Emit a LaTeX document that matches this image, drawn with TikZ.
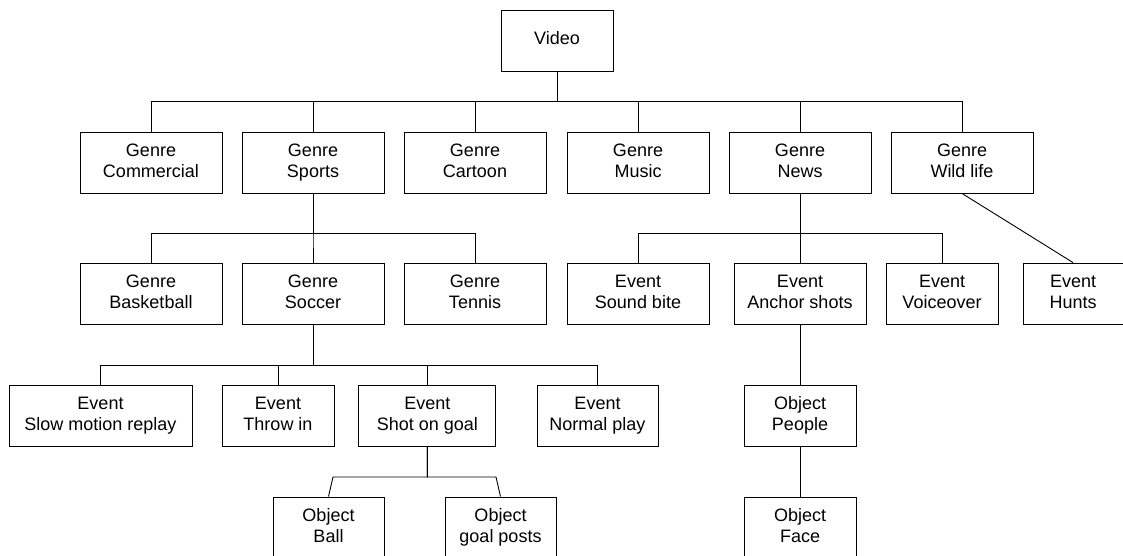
\documentclass[tikz,border=0pt]{standalone}
\usepackage{fontspec}
\setmainfont{Liberation Sans}
\newcommand{\twol}[2]{\strut#1\\\strut#2}
\begin{document}
\begin{tikzpicture}[x=1pt,y=-1pt,
  box/.style={draw=black,line width=0.9pt,rectangle,inner sep=0pt,minimum height=61pt,align=center,font=\fontsize{18}{21}\selectfont},
  conn/.style={draw=black,line width=0.9pt}]
\useasboundingbox (0,0) rectangle (1123,556);
% row 0
\node[box,minimum width=112pt] (video) at (557,40.5) {\strut Video};
% row 1
\node[box,minimum width=142pt] (commercial) at (151,162.5) {\twol{Genre}{Commercial}};
\node[box,minimum width=142pt] (sports) at (313,162.5) {\twol{Genre}{Sports}};
\node[box,minimum width=142pt] (cartoon) at (475,162.5) {\twol{Genre}{Cartoon}};
\node[box,minimum width=142pt] (music) at (638,162.5) {\twol{Genre}{Music}};
\node[box,minimum width=142pt] (news) at (800,162.5) {\twol{Genre}{News}};
\node[box,minimum width=142pt] (wildlife) at (962,162.5) {\twol{Genre}{Wild life}};
% row 2
\node[box,minimum width=142pt] (basketball) at (151,293.5) {\twol{Genre}{Basketball}};
\node[box,minimum width=142pt] (soccer) at (313,293.5) {\twol{Genre}{Soccer}};
\node[box,minimum width=142pt] (tennis) at (475,293.5) {\twol{Genre}{Tennis}};
\node[box,minimum width=142pt] (soundbite) at (638,293.5) {\twol{Event}{Sound bite}};
\node[box,minimum width=132pt] (anchor) at (800,293.5) {\twol{Event}{Anchor shots}};
\node[box,minimum width=112pt] (voiceover) at (942,293.5) {\twol{Event}{Voiceover}};
\node[box,minimum width=100pt] (hunts) at (1073,293.5) {\twol{Event}{Hunts}};
% row 3
\node[box,minimum width=183pt] (slowmo) at (100.5,415.5) {\twol{Event}{Slow motion replay}};
\node[box,minimum width=112pt] (throwin) at (278,415.5) {\twol{Event}{Throw in}};
\node[box,minimum width=137pt] (shot) at (427.3,415.5) {\twol{Event}{Shot on goal}};
\node[box,minimum width=121pt] (normal) at (597.5,415.5) {\twol{Event}{Normal play}};
\node[box,minimum width=112pt] (people) at (800,415.5) {\twol{Object}{People}};
% row 4
\node[box,minimum width=111pt] (ball) at (328.5,527.5) {\twol{Object}{Ball}};
\node[box,minimum width=111pt] (goalposts) at (500.5,527.5) {\twol{Object}{goal posts}};
\node[box,minimum width=112pt] (face) at (800,527.5) {\twol{Object}{Face}};
% bus points
\coordinate (b1) at (557,101);
\coordinate (b2) at (313,233);
\coordinate (b3) at (800,233);
\coordinate (b4) at (313,365);
\coordinate (b5) at (427.3,477);
\coordinate (b5l) at (333,477);
\coordinate (b5r) at (496,477);
% connectors
\foreach \c in {commercial,sports,cartoon,music,news,wildlife}
  \draw[conn] (video.south) -- (b1) -| (\c.north);
\foreach \c in {basketball,soccer,tennis}
  \draw[conn] (sports.south) -- (b2) -| (\c.north);
\foreach \c in {soundbite,anchor,voiceover}
  \draw[conn] (news.south) -- (b3) -| (\c.north);
\draw[conn] (wildlife.south) -- (hunts.north);
\foreach \c in {slowmo,throwin,shot,normal}
  \draw[conn] (soccer.south) -- (b4) -| (\c.north);
\draw[conn] (shot.south) -- (b5) -- (b5l) -- (ball.north);
\draw[conn] (shot.south) -- (b5) -- (b5r) -- (goalposts.north);
\draw[conn] (anchor.south) -- (people.north);
\draw[conn] (people.south) -- (face.north);
\end{tikzpicture}
\end{document}
